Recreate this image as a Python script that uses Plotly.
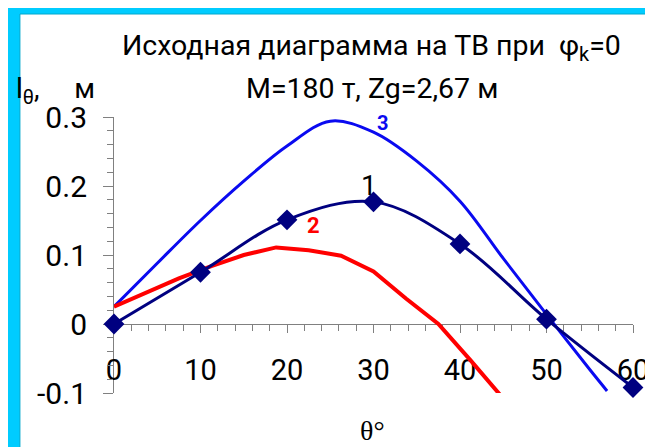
import plotly.graph_objects as go

# ---- data ----
theta1 = [0, 10, 20, 30, 40, 50, 60]
l1 = [0.0, 0.075, 0.151, 0.177, 0.116, 0.007, -0.092]

theta2 = [0, 3.75, 7.5, 11.25, 15, 18.75, 22.5, 26.25, 30, 33.75, 37.5, 41.25, 45]
l2 = [0.025, 0.046, 0.066, 0.084, 0.100, 0.111, 0.107, 0.099, 0.076, 0.037, 0.0, -0.053, -0.108]

theta3 = [0, 5, 10, 15, 20, 25, 30, 35, 40, 45, 50, 55, 57]
l3 = [0.025, 0.088, 0.150, 0.207, 0.258, 0.294, 0.278, 0.236, 0.178, 0.095, 0.014, -0.066, -0.097]

x_ticks = [0, 10, 20, 30, 40, 50, 60]
y_ticks = [-0.1, 0, 0.1, 0.2, 0.3]
y_ticktext = ["-0.1", "0", "0.1", "0.2", "0.3"]

title1 = "Исходная диаграмма на ТВ при  φ<sub>k</sub>=0"
title2 = "M=180 т, Zg=2,67 м"
ylab = "l<sub>θ</sub>,\u00a0\u00a0\u00a0\u00a0 м"
xlab = "θ°"

# page offset of the plot div (body margin)
OFF = 8
W, H = 653, 447
L, T = 114 - OFF, 117 - OFF
R = W - (638 - OFF)
B = H - (393 - OFF)
pw, ph = W - L - R, H - T - B


def px(xpix):  # reference pixel -> paper x
    return (xpix - OFF - L) / pw


def py(ypix):  # reference pixel -> paper y
    return (H - B - (ypix - OFF)) / ph


FONT = "Roboto"

fig = go.Figure()
fig.add_trace(go.Scatter(x=theta3, y=l3, mode="lines", line=dict(color="#0A0AF0", width=3, shape="spline"),
                         cliponaxis=False, showlegend=False))
fig.add_trace(go.Scatter(x=theta2, y=l2, mode="lines", line=dict(color="#FF0000", width=4),
                         cliponaxis=False, showlegend=False))
fig.add_trace(go.Scatter(x=theta1, y=l1, mode="lines+markers", line=dict(color="#000080", width=3, shape="spline"),
                         marker=dict(symbol="diamond", size=16, color="#000080"),
                         cliponaxis=False, showlegend=False))

fig.update_layout(
    width=W, height=H,
    margin=dict(l=L, r=R, t=T, b=B),
    paper_bgcolor="#00CCFF",
    plot_bgcolor="white",
    font=dict(family=FONT, color="black"),
    xaxis=dict(range=[0, 60], anchor="free", position=0.25,
               tickvals=x_ticks, ticks="outside", ticklen=8, tickcolor="#808080",
               showline=True, linecolor="#808080", linewidth=1,
               minor=dict(dtick=2, ticks="outside", ticklen=6, tickcolor="#808080"),
               showgrid=False, zeroline=False, layer="below traces",
               tickfont=dict(size=29, family=FONT), ticklabelstandoff=12),
    yaxis=dict(range=[-0.1, 0.3], tickvals=y_ticks, ticktext=y_ticktext,
               ticks="outside", ticklen=10, tickcolor="#808080",
               showline=True, linecolor="#808080", linewidth=1,
               minor=dict(dtick=0.02, ticks="outside", ticklen=6, tickcolor="#808080"),
               showgrid=False, zeroline=False, layer="below traces",
               tickfont=dict(size=30, family=FONT), ticklabelstandoff=10),
)

fig.add_shape(type="rect", xref="paper", yref="paper",
              x0=px(19), x1=px(700), y0=py(520), y1=py(14),
              fillcolor="white", line=dict(color="#00A8CC", width=1), layer="below")

fig.add_annotation(x=px(374), y=py(47), xref="paper", yref="paper", text=title1, showarrow=False,
                   font=dict(size=28.5, family=FONT), xanchor="center", yanchor="middle")
fig.add_annotation(x=px(374), y=py(88), xref="paper", yref="paper", text=title2, showarrow=False,
                   font=dict(size=28.5, family=FONT), xanchor="center", yanchor="middle")
fig.add_annotation(x=px(13), y=py(90), xref="paper", yref="paper", text=ylab, showarrow=False,
                   font=dict(size=28, family=FONT), xanchor="left", yanchor="middle")
fig.add_annotation(x=px(375), y=py(430), xref="paper", yref="paper", text=xlab, showarrow=False,
                   font=dict(size=28, family="Liberation Serif"), xanchor="center", yanchor="middle")

fig.add_annotation(x=29.5, y=0.201, text="1", showarrow=False, font=dict(size=28, color="black", family=FONT))
fig.add_annotation(x=23.1, y=0.143, text="<b>2</b>", showarrow=False, font=dict(size=22, color="#FF0000", family=FONT))
fig.add_annotation(x=px(385), y=py(109), xref="paper", yref="paper", text="<b>3</b>", showarrow=False,
                   font=dict(size=20, color="#0A0AF0", family=FONT))

fig.write_html("out.html")
